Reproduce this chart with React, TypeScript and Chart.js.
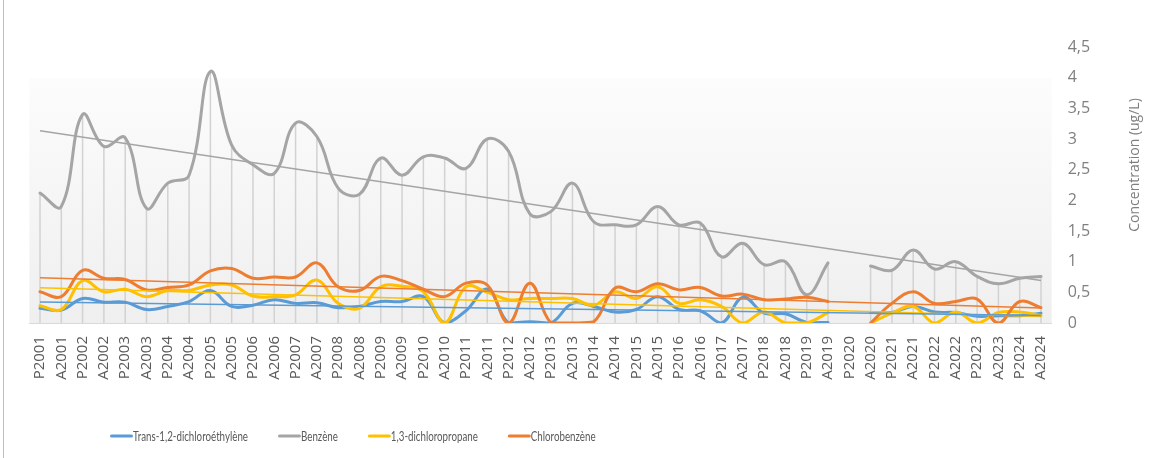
import React, { useEffect, useRef } from "react";
import { Chart, registerables } from "chart.js";

Chart.register(...registerables);

const categories = [
  "P2001", "A2001", "P2002", "A2002", "P2003", "A2003", "P2004", "A2004",
  "P2005", "A2005", "P2006", "A2006", "P2007", "A2007", "P2008", "A2008",
  "P2009", "A2009", "P2010", "A2010", "P2011", "A2011", "P2012", "A2012",
  "P2013", "A2013", "P2014", "A2014", "P2015", "A2015", "P2016", "A2016",
  "P2017", "A2017", "P2018", "A2018", "P2019", "A2019", "P2020", "A2020",
  "P2021", "A2021", "P2022", "A2022", "P2023", "A2023", "P2024", "A2024",
];

const trans12 = [
  0.24, 0.21, 0.40, 0.34, 0.34, 0.22, 0.27, 0.35,
  0.53, 0.27, 0.29, 0.38, 0.32, 0.33, 0.25, 0.27,
  0.35, 0.35, 0.43, 0.0, 0.20, 0.55, 0.0, 0.02,
  0.0, 0.32, 0.27, 0.18, 0.22, 0.43, 0.22, 0.20,
  0.0, 0.42, 0.16, 0.15, 0.01, 0.01, null, 0.17,
  0.17, 0.27, 0.18, 0.17, 0.11, 0.12, 0.12, 0.16,
];

const benzene = [
  2.12, 1.90, 3.40, 2.88, 3.02, 1.87, 2.28, 2.41,
  4.10, 2.90, 2.58, 2.44, 3.26, 3.04, 2.20, 2.10,
  2.69, 2.41, 2.71, 2.69, 2.52, 3.00, 2.80, 1.78,
  1.82, 2.28, 1.65, 1.60, 1.60, 1.90, 1.60, 1.63,
  1.08, 1.30, 0.95, 1.00, 0.46, 0.98, null, 0.93,
  0.86, 1.19, 0.88, 1.00, 0.76, 0.64, 0.73, 0.76,
];

const dichloropropane = [
  0.28, 0.22, 0.69, 0.51, 0.55, 0.43, 0.53, 0.53,
  0.62, 0.62, 0.44, 0.43, 0.46, 0.70, 0.32, 0.24,
  0.59, 0.60, 0.51, 0.0, 0.59, 0.50, 0.38, 0.40,
  0.40, 0.40, 0.29, 0.51, 0.40, 0.59, 0.32, 0.38,
  0.27, 0.0, 0.18, 0.0, 0.0, 0.17, null, 0.0,
  0.16, 0.27, 0.0, 0.18, 0.0, 0.17, 0.18, 0.12,
];

const chlorobenzene = [
  0.51, 0.43, 0.86, 0.73, 0.71, 0.54, 0.58, 0.62,
  0.85, 0.89, 0.73, 0.75, 0.75, 0.98, 0.59, 0.53,
  0.76, 0.69, 0.55, 0.43, 0.65, 0.62, 0.0, 0.65,
  0.0, 0.0, 0.02, 0.57, 0.51, 0.64, 0.54, 0.58,
  0.44, 0.47, 0.38, 0.39, 0.42, 0.35, null, 0.0,
  0.32, 0.51, 0.32, 0.35, 0.39, 0.0, 0.35, 0.25,
];

const seriesNames = [
  "Trans-1,2-dichloroéthylène",
  "Benzène",
  "1,3-dichloropropane",
  "Chlorobenzène",
];
const seriesColors = ["#5B9BD5", "#A5A5A5", "#FFC000", "#ED7D31"];
const axisTitle = "Concentration (ug/L)";
const yMin = 0;
const yMax = 4.5;
const yStep = 0.5;

// Linear trend (least squares over category index), endpoints only
function trendLine(values: (number | null)[]) {
  let n = 0, sx = 0, sy = 0, sxx = 0, sxy = 0;
  values.forEach((v, i) => {
    if (v === null || v === undefined) return;
    n++; sx += i; sy += v; sxx += i * i; sxy += i * v;
  });
  const slope = (n * sxy - sx * sy) / (n * sxx - sx * sx);
  const intercept = (sy - slope * sx) / n;
  const last = values.length - 1;
  return values.map((_, i) => (i === 0 || i === last ? intercept + slope * i : null));
}

export default function App() {
  const ref = useRef<HTMLCanvasElement>(null);

  useEffect(() => {
    if (!ref.current) return;
    const seriesData = [trans12, benzene, dichloropropane, chlorobenzene];

    const datasets: any[] = [];
    seriesData.forEach((d, k) => {
      datasets.push({
        label: seriesNames[k],
        data: d,
        borderColor: seriesColors[k],
        backgroundColor: seriesColors[k],
        borderWidth: 3,
        pointRadius: 0,
        tension: 0.4,
        spanGaps: false,
        fill: false,
        borderCapStyle: "round",
        borderJoinStyle: "round",
        order: 10 - k,
      });
    });
    seriesData.forEach((d, k) => {
      datasets.push({
        label: seriesNames[k] + " (tendance)",
        data: trendLine(d),
        borderColor: seriesColors[k],
        backgroundColor: seriesColors[k],
        borderWidth: 1.5,
        pointRadius: 0,
        tension: 0,
        spanGaps: true,
        fill: false,
        order: 0,
      });
    });

    const backgroundPlugin = {
      id: "bg",
      beforeDraw(chart: any) {
        const { ctx, chartArea } = chart;
        ctx.save();
        ctx.fillStyle = "#ffffff";
        ctx.fillRect(0, 0, chart.width, chart.height);
        const top = chartArea.top + (chartArea.bottom - chartArea.top) * 0.112;
        const g = ctx.createLinearGradient(0, top, 0, chartArea.bottom);
        g.addColorStop(0, "#fcfcfc");
        g.addColorStop(1, "#efefef");
        ctx.fillStyle = g;
        ctx.fillRect(chartArea.left, top, chartArea.right - chartArea.left, chartArea.bottom - top);
        // outer frame
        ctx.strokeStyle = "#bfbfbf";
        ctx.lineWidth = 1;
        ctx.beginPath();
        ctx.moveTo(3.5, 0);
        ctx.lineTo(3.5, chart.height);
        ctx.stroke();
        ctx.restore();
      },
    };

    const dropLinesPlugin = {
      id: "dropLines",
      beforeDatasetsDraw(chart: any) {
        const { ctx } = chart;
        const xs = chart.scales.x;
        const ys = chart.scales.y;
        ctx.save();
        ctx.strokeStyle = "#d2d2d2";
        ctx.lineWidth = 1.5;
        categories.forEach((_, i) => {
          const vals = seriesData.map((s) => s[i]).filter((v) => v !== null && v !== undefined) as number[];
          if (!vals.length) return;
          const m = Math.max(...vals);
          const x = xs.getPixelForValue(i);
          ctx.beginPath();
          ctx.moveTo(x, ys.getPixelForValue(m));
          ctx.lineTo(x, ys.getPixelForValue(0));
          ctx.stroke();
        });
        ctx.restore();
      },
    };

    const extrasPlugin = {
      id: "extras",
      afterDraw(chart: any) {
        const { ctx, chartArea } = chart;
        ctx.save();
        // axis title (reads bottom to top)
        ctx.fillStyle = "#7f7f7f";
        ctx.font = '14px "Open Sans", sans-serif';
        ctx.textAlign = "center";
        ctx.textBaseline = "middle";
        ctx.translate(1135, chartArea.top + 118);
        ctx.rotate(-Math.PI / 2);
        ctx.fillText(axisTitle, 0, 0);
        ctx.restore();

        // legend (condensed text)
        ctx.save();
        ctx.font = '14px Lato, "Open Sans", sans-serif';
        ctx.textBaseline = "middle";
        ctx.textAlign = "left";
        const squeeze = 115 / ctx.measureText(seriesNames[0]).width;
        let x = 110;
        const y = 436;
        seriesNames.forEach((name, k) => {
          ctx.strokeStyle = seriesColors[k];
          ctx.lineWidth = 3;
          ctx.lineCap = "round";
          ctx.beginPath();
          ctx.moveTo(x + 1.5, y);
          ctx.lineTo(x + 21.5, y);
          ctx.stroke();
          ctx.fillStyle = "#595959";
          const w = ctx.measureText(name).width * squeeze;
          ctx.save();
          ctx.translate(x + 23, y);
          ctx.scale(squeeze, 1);
          ctx.fillText(name, 0, 0);
          ctx.restore();
          x += 23 + w + 30;
        });
        ctx.restore();
      },
    };

    const chart = new Chart(ref.current, {
      type: "line",
      data: { labels: categories, datasets },
      options: {
        animation: false,
        responsive: true,
        maintainAspectRatio: false,
        events: [],
        layout: { padding: { left: 29.35, top: 47, right: 0, bottom: 55 } },
        plugins: {
          legend: { display: false },
          tooltip: { enabled: false },
          title: { display: false },
        },
        scales: {
          x: {
            type: "category",
            offset: true,
            grid: { display: false, drawTicks: false },
            border: { display: true, color: "#d9d9d9", width: 1 },
            ticks: {
              autoSkip: false,
              minRotation: 90,
              maxRotation: 90,
              padding: 13,
              color: "#595959",
              font: { family: '"Open Sans", sans-serif', size: 15 },
            },
            afterFit(scale: any) {
              scale.height = 80;
            },
          },
          y: {
            position: "right",
            min: yMin,
            max: yMax,
            grid: { display: false, drawTicks: false },
            border: { display: false },
            ticks: {
              stepSize: yStep,
              padding: 16,
              color: "#7f7f7f",
              font: { family: '"Open Sans", sans-serif', size: 16 },
              callback: (v: any) => String(Math.round(Number(v) * 10) / 10).replace(".", ","),
            },
            afterFit(scale: any) {
              scale.width = 111.35;
            },
          },
        },
      },
      plugins: [backgroundPlugin, dropLinesPlugin, extrasPlugin],
    });

    return () => chart.destroy();
  }, []);

  return (
    <div style={{ position: "absolute", left: 0, top: 0, width: 1163, height: 458 }}>
      <canvas ref={ref} />
    </div>
  );
}
